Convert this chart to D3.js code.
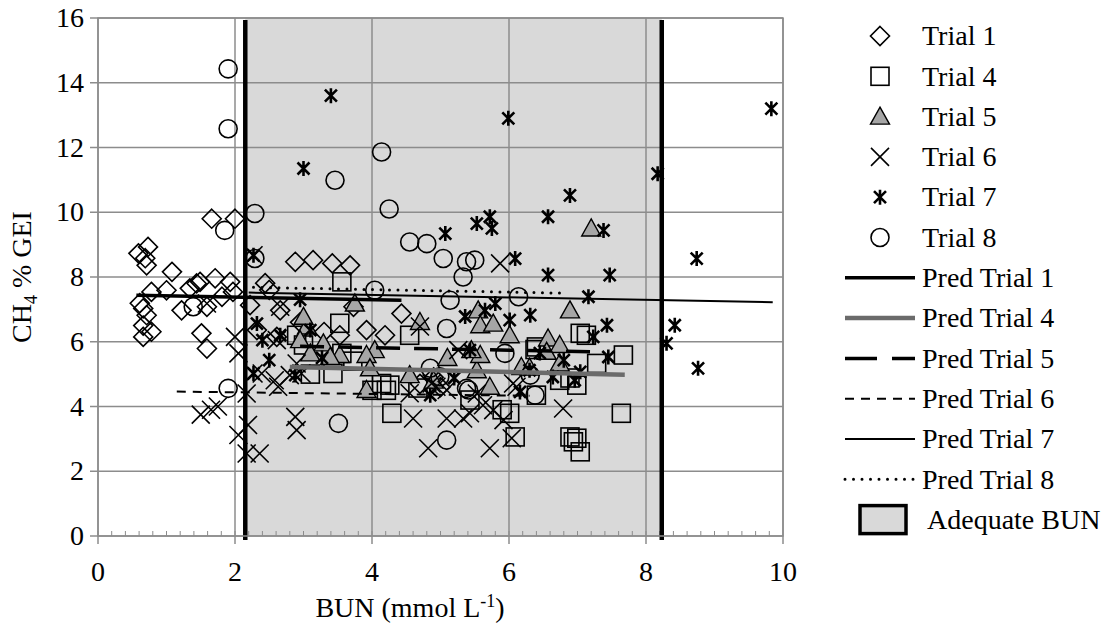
<!DOCTYPE html>
<meta charset="utf-8">
<style>
body { margin: 0; background: #fff; }
svg text { font-family: "Liberation Serif", "DejaVu Serif", "Noto Serif", serif; fill: #000; }
</style>
<svg width="1113" height="629"></svg>
<script src="https://d3js.org/d3.v7.min.js"></script>
<script>

var t1x = [0.59,0.73,0.69,0.71,1.08,1.49,1.71,1.93,2.44,2.88,3.14,3.42,0.78,1.0,1.34,1.44,1.81,0.61,0.66,0.71,1.22,1.59,0.66,0.78,0.66,1.51,1.59,2.22,2.32,2.61,2.66,1.97,1.66,2.0,3.68,4.43,3.92,4.19,3.53,3.73,4.9,5.0,4.7,2.95,3.3,2.5];
var t1y = [8.73,8.93,8.58,8.36,8.16,7.85,7.96,7.85,7.81,8.47,8.52,8.42,7.54,7.59,7.65,7.8,7.39,7.19,7.03,6.82,6.97,7.08,6.5,6.31,6.15,6.26,5.79,7.13,6.36,6.15,6.97,7.54,9.8,9.8,8.36,6.87,6.36,6.2,6.2,7.08,4.9,4.6,4.7,6.6,6.3,7.6];

var t4x = [3.56,3.53,4.55,6.4,7.04,3.56,4.26,4.14,3.43,6.89,4.21,4.29,6.01,6.09,6.4,6.89,6.94,7.04,6.74,7.13,7.28,7.67,6.99,7.64,6.99,3.0,2.9,3.72,5.43,6.38,4.67,5.9,3.1,4.0];
var t4y = [7.85,6.57,6.2,5.84,6.26,5.64,4.66,4.71,5.02,4.88,4.5,3.79,3.79,3.06,4.35,3.06,2.91,2.6,4.81,6.2,5.33,5.59,4.66,3.79,3.02,5.9,6.2,5.4,4.2,5.76,4.57,3.9,5.0,4.5];

var t5x = [3.75,4.7,5.55,5.58,5.77,6.01,4.04,3.92,3.53,3.97,4.55,3.92,5.53,5.58,5.72,6.18,6.57,6.74,6.74,6.89,6.55,5.45,7.2,3.05,3.0,3.29,3.1,3.39,2.95,4.9,6.3,5.1];
var t5y = [7.18,6.61,6.97,6.51,6.56,6.2,5.74,5.59,5.59,5.18,4.97,4.51,5.12,5.59,4.61,5.22,6.1,5.9,5.33,6.97,5.69,5.74,9.5,6.47,6.77,5.95,5.64,5.53,6.05,4.8,5.2,5.5];

var t6x = [1.65,1.75,2.17,2.19,2.05,2.17,2.36,2.63,2.88,2.9,4.6,5.09,4.82,5.33,5.43,5.62,5.77,5.72,5.92,6.04,6.79,4.55,4.94,5.09,5.53,6.11,5.87,4.7,5.26,6.06,4.87,2.27,2.66,2.61,2.0,2.05,2.27,2.39,2.58,2.8,2.9,2.97,1.59,1.5];
var t6y = [3.9,4.0,4.4,3.43,3.12,2.55,2.55,4.61,3.68,3.27,3.63,3.63,2.71,3.63,3.79,4.04,3.89,2.71,3.58,3.02,3.94,4.41,4.61,4.51,4.4,4.61,8.42,6.47,5.74,4.71,4.71,8.67,7.08,6.05,6.15,5.64,5.02,5.02,4.81,4.97,5.33,5.02,7.18,3.75];

var t7x = [9.83,3.4,5.99,3.0,8.17,6.89,5.72,5.75,5.53,6.57,5.07,6.09,6.57,6.31,6.01,5.36,5.8,5.65,7.38,7.47,7.16,7.43,7.23,7.45,7.04,8.74,8.42,8.3,8.76,2.27,2.32,2.66,2.27,2.95,3.1,3.27,2.4,2.5,2.88,5.2,5.43,4.85,6.3,6.16,6.64,6.96,6.8,6.45];
var t7y = [13.2,13.6,12.9,11.35,11.19,10.52,9.86,9.5,9.65,9.86,9.34,8.57,8.06,6.82,6.67,6.78,7.18,6.97,9.44,8.06,7.39,6.51,6.15,5.53,5.07,8.57,6.51,5.95,5.18,8.67,6.56,6.2,5.02,7.3,6.36,5.5,6.05,5.43,4.97,4.88,5.74,4.35,5.12,4.45,4.91,4.81,5.43,5.65];

var t8x = [1.9,1.9,2.29,1.85,2.29,1.39,1.9,4.14,3.46,4.25,4.55,4.8,5.04,5.38,5.5,5.33,5.14,6.14,4.04,5.09,4.85,4.99,5.38,5.94,6.31,3.51,5.09,5.41,6.38];
var t8y = [14.43,12.58,9.96,9.44,8.57,7.08,4.56,11.86,10.99,10.1,9.08,9.03,8.57,8.47,8.52,8.0,7.28,7.39,7.59,6.41,5.18,4.92,4.56,5.64,4.97,3.48,2.96,4.51,4.35];

// fitted lines (end points)
var pred1x = [0.56, 4.43], pred1y = [7.44, 7.28];
var pred4x = [2.8, 7.69],  pred4y = [5.22, 4.98];
var pred5x = [2.95, 7.23], pred5y = [5.86, 5.69];
var pred6x = [1.15, 6.3],  pred6y = [4.46, 4.33];
var pred7x = [2.2, 9.85],  pred7y = [7.52, 7.22];
var pred8x = [2.27, 6.85], pred8y = [7.68, 7.5];

// adequate BUN range
var bunLow = 2.15, bunHigh = 8.23;

var xTicks = [0, 2, 4, 6, 8, 10];
var yTicks = [0, 2, 4, 6, 8, 10, 12, 14, 16];

var svg = d3.select("svg");
var grid = "#8c8c8c";
var fs = "28px";

var x = d3.scaleLinear().domain([0, 10]).range([98, 783]);
var y = d3.scaleLinear().domain([0, 16]).range([536, 18]);

// shaded band
svg.append("rect")
    .attr("x", x(bunLow)).attr("y", y(16))
    .attr("width", x(bunHigh) - x(bunLow)).attr("height", y(0) - y(16))
    .attr("fill", "#d9d9d9");

// grid
svg.append("g").selectAll("line").data(yTicks).enter().append("line")
    .attr("x1", x(0) - 8).attr("x2", x(10))
    .attr("y1", d => y(d)).attr("y2", d => y(d))
    .attr("stroke", grid).attr("stroke-width", 1.5);
svg.append("g").selectAll("line").data(xTicks).enter().append("line")
    .attr("x1", d => x(d)).attr("x2", d => x(d))
    .attr("y1", y(16)).attr("y2", y(0) + 8)
    .attr("stroke", grid).attr("stroke-width", 1.5);

// minor ticks on x axis
svg.append("g").selectAll("line").data(d3.range(0, 50).map(i => i * 0.2)).enter().append("line")
    .attr("x1", d => x(d)).attr("x2", d => x(d))
    .attr("y1", y(0)).attr("y2", y(0) - 5)
    .attr("stroke", grid).attr("stroke-width", 1);

// tick labels
svg.append("g").selectAll("text").data(xTicks).enter().append("text")
    .attr("x", d => x(d)).attr("y", 581)
    .attr("text-anchor", "middle").style("font-size", fs)
    .text(d => d);
svg.append("g").selectAll("text").data(yTicks).enter().append("text")
    .attr("x", 84).attr("y", d => y(d)).attr("dy", "0.33em")
    .attr("text-anchor", "end").style("font-size", fs)
    .text(d => d);

// axis titles
var xt = svg.append("text").attr("x", 410).attr("y", 617)
    .attr("text-anchor", "middle").style("font-size", fs);
xt.append("tspan").text("BUN (mmol L");
xt.append("tspan").attr("dy", -10).style("font-size", "18px").text("-1");
xt.append("tspan").attr("dy", 10).text(")");

var yt = svg.append("text").attr("transform", "translate(31,277) rotate(-90)")
    .attr("text-anchor", "middle").style("font-size", fs);
yt.append("tspan").text("CH");
yt.append("tspan").attr("dy", 6).style("font-size", "18px").text("4");
yt.append("tspan").attr("dy", -6).text(" % GEI");

// markers
function marker(g, type, cx, cy) {
  var m = g.append("g").attr("transform", "translate(" + cx + "," + cy + ")");
  if (type == "diamond") {
    m.append("path").attr("d", "M0,-9.5L9.5,0L0,9.5L-9.5,0Z")
      .attr("fill", "none").attr("stroke", "#000").attr("stroke-width", 1.6);
  } else if (type == "square") {
    m.append("rect").attr("x", -9).attr("y", -9).attr("width", 18).attr("height", 18)
      .attr("fill", "none").attr("stroke", "#000").attr("stroke-width", 1.6);
  } else if (type == "triangle") {
    m.append("path").attr("d", "M0,-9.5L9.5,7.5L-9.5,7.5Z")
      .attr("fill", "#a6a6a6").attr("stroke", "#000").attr("stroke-width", 1.4);
  } else if (type == "x") {
    m.append("path").attr("d", "M-9,-9L9,9M-9,9L9,-9")
      .attr("stroke", "#000").attr("stroke-width", 1.6);
  } else if (type == "star") {
    m.append("path").attr("d", "M-6,-6L6,6M-6,6L6,-6M0,-7.5L0,7.5")
      .attr("stroke", "#000").attr("stroke-width", 2.6);
  } else if (type == "circle") {
    m.append("circle").attr("r", 9)
      .attr("fill", "none").attr("stroke", "#000").attr("stroke-width", 1.6);
  }
}

var series = [
  {name: "Trial 1", type: "diamond", xs: t1x, ys: t1y},
  {name: "Trial 4", type: "square", xs: t4x, ys: t4y},
  {name: "Trial 5", type: "triangle", xs: t5x, ys: t5y},
  {name: "Trial 6", type: "x", xs: t6x, ys: t6y},
  {name: "Trial 7", type: "star", xs: t7x, ys: t7y},
  {name: "Trial 8", type: "circle", xs: t8x, ys: t8y}
];

var pts = svg.append("g");
series.forEach(function(s) {
  s.xs.forEach(function(v, i) { marker(pts, s.type, x(v), y(s.ys[i])); });
});

// prediction lines
var preds = [
  {name: "Pred Trial 1", xs: pred1x, ys: pred1y, color: "#000", w: 3.5, dash: null},
  {name: "Pred Trial 4", xs: pred4x, ys: pred4y, color: "#6b6b6b", w: 4.5, dash: null},
  {name: "Pred Trial 5", xs: pred5x, ys: pred5y, color: "#000", w: 3.5, dash: "24,14"},
  {name: "Pred Trial 6", xs: pred6x, ys: pred6y, color: "#000", w: 2, dash: "9,7"},
  {name: "Pred Trial 7", xs: pred7x, ys: pred7y, color: "#000", w: 2, dash: null},
  {name: "Pred Trial 8", xs: pred8x, ys: pred8y, color: "#000", w: 3, dash: "0,8.5", cap: "round"}
];

var line = d3.line().x(d => x(d[0])).y(d => y(d[1]));
preds.forEach(function(p) {
  svg.append("path")
    .attr("d", line(p.xs.map((v, i) => [v, p.ys[i]])))
    .attr("fill", "none").attr("stroke", p.color).attr("stroke-width", p.w)
    .attr("stroke-dasharray", p.dash).attr("stroke-linecap", p.cap || "butt");
});

// band limits
[bunLow, bunHigh].forEach(function(v) {
  svg.append("line")
    .attr("x1", x(v)).attr("x2", x(v))
    .attr("y1", y(16) + 2).attr("y2", y(0) + 4)
    .attr("stroke", "#000").attr("stroke-width", 4.5);
});

// plot border
svg.append("rect").attr("x", x(0)).attr("y", y(16))
  .attr("width", x(10) - x(0)).attr("height", y(0) - y(16))
  .attr("fill", "none").attr("stroke", grid).attr("stroke-width", 1.5);

// legend
var lg = svg.append("g");
var rowY = function(i) { return 36 + i * 40.3; };
series.forEach(function(s, i) {
  marker(lg, s.type, 880, rowY(i));
  lg.append("text").attr("x", 922).attr("y", rowY(i)).attr("dy", "0.33em")
    .style("font-size", fs).text(s.name);
});
preds.forEach(function(p, j) {
  var i = j + 6;
  lg.append("line").attr("x1", 845).attr("x2", 915)
    .attr("y1", rowY(i)).attr("y2", rowY(i))
    .attr("stroke", p.color).attr("stroke-width", p.w)
    .attr("stroke-dasharray", p.name == "Pred Trial 5" ? "32,15" : p.dash)
    .attr("stroke-linecap", p.cap || "butt");
  lg.append("text").attr("x", 922).attr("y", rowY(i)).attr("dy", "0.33em")
    .style("font-size", fs).text(p.name);
});
lg.append("rect").attr("x", 860).attr("y", rowY(12) - 14).attr("width", 46).attr("height", 28)
  .attr("fill", "#d9d9d9").attr("stroke", "#000").attr("stroke-width", 3.5);
lg.append("text").attr("x", 927).attr("y", rowY(12)).attr("dy", "0.33em")
  .style("font-size", fs).text("Adequate BUN");

</script>
